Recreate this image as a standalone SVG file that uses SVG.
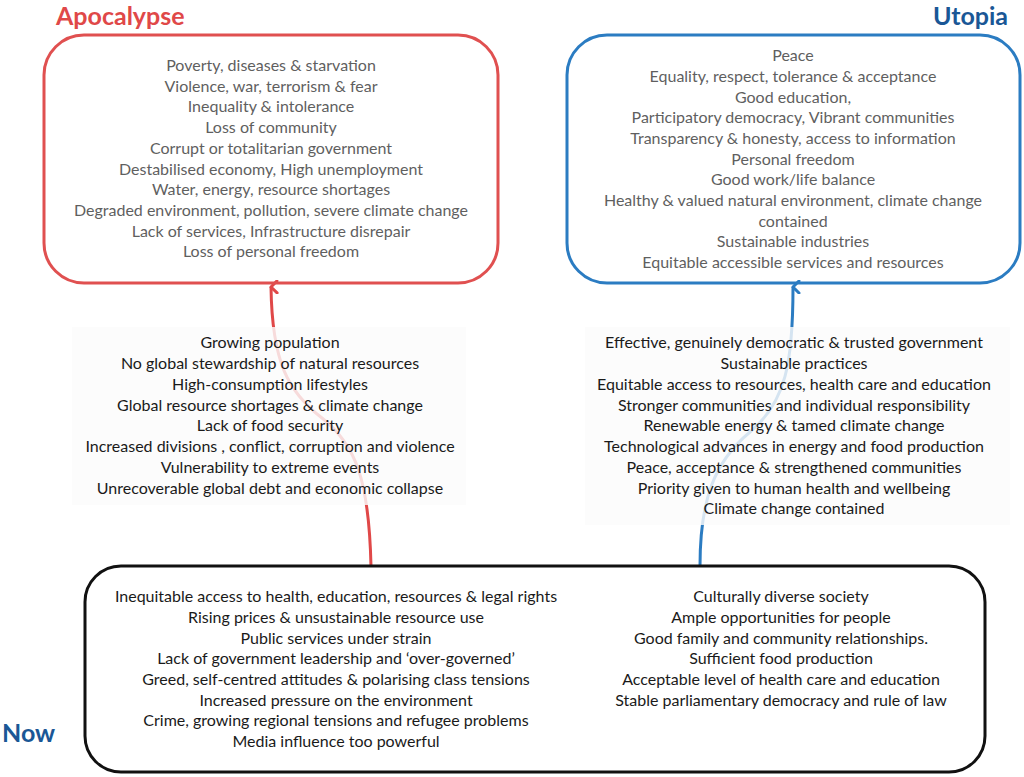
<svg xmlns="http://www.w3.org/2000/svg" width="1024" height="777" viewBox="0 0 1024 777">
<defs>
<style>
.title{font-family:Lato,"Open Sans",sans-serif;font-weight:bold;font-size:25px}
.t{font-family:Lato,"Liberation Sans",sans-serif;font-size:16px;text-anchor:middle}
.gray{fill:#5f5f5f}
.dark{fill:#1a1a1a}
.box{fill:none;stroke-width:3}
.veil{fill:#fbfbfb;fill-opacity:0.82}
</style>
<marker id="ar-red" markerWidth="14" markerHeight="14" refX="7" refY="2" orient="auto-start-reverse" markerUnits="userSpaceOnUse" viewBox="0 0 14 14">
<path d="M1,8 L7,2 L13,8" fill="none" stroke="#e04848" stroke-width="3" stroke-linecap="round" stroke-linejoin="round"/>
</marker>
<marker id="ar-blue" markerWidth="14" markerHeight="14" refX="7" refY="2" orient="auto-start-reverse" markerUnits="userSpaceOnUse" viewBox="0 0 14 14">
<path d="M1,8 L7,2 L13,8" fill="none" stroke="#2b7cc2" stroke-width="3" stroke-linecap="round" stroke-linejoin="round"/>
</marker>
</defs>
<rect width="1024" height="777" fill="#ffffff"/>

<g id="connectors">
<path d="M371,566 C369,480 356,445 322,418 C288,392 272,362 271,287" fill="none" stroke="#e04848" stroke-width="3" marker-end="url(#ar-red)"/>
<path d="M700,566 C700,500 714,462 750,432 C786,402 793,362 793,287" fill="none" stroke="#2b7cc2" stroke-width="3" marker-end="url(#ar-blue)"/>
</g>

<g id="apocalypse">
<text class="title" x="56" y="25" fill="#e04848">Apocalypse</text>
<rect class="box" x="44" y="35" width="454" height="248" rx="40" stroke="#e05050"/>
<g class="t gray">
<text x="271" y="71">Poverty, diseases &amp; starvation</text>
<text x="271" y="92">Violence, war, terrorism &amp; fear</text>
<text x="271" y="112">Inequality &amp; intolerance</text>
<text x="271" y="133">Loss of community</text>
<text x="271" y="154">Corrupt or totalitarian government</text>
<text x="271" y="175">Destabilised economy, High unemployment</text>
<text x="271" y="195">Water, energy, resource shortages</text>
<text x="271" y="216">Degraded environment, pollution, severe climate change</text>
<text x="271" y="237">Lack of services, Infrastructure disrepair</text>
<text x="271" y="257">Loss of personal freedom</text>
</g>
</g>

<g id="utopia">
<text class="title" x="1008" y="25" fill="#1a5796" text-anchor="end">Utopia</text>
<rect class="box" x="567" y="35" width="453" height="248" rx="40" stroke="#2b7cc2"/>
<g class="t gray">
<text x="793" y="61">Peace</text>
<text x="793" y="82">Equality, respect, tolerance &amp; acceptance</text>
<text x="793" y="103">Good education,</text>
<text x="793" y="123">Participatory democracy, Vibrant communities</text>
<text x="793" y="144">Transparency &amp; honesty, access to information</text>
<text x="793" y="165">Personal freedom</text>
<text x="793" y="185">Good work/life balance</text>
<text x="793" y="206">Healthy &amp; valued natural environment, climate change</text>
<text x="793" y="227">contained</text>
<text x="793" y="247">Sustainable industries</text>
<text x="793" y="268">Equitable accessible services and resources</text>
</g>
</g>

<g id="drivers-apocalypse">
<rect class="veil" x="72" y="327" width="394" height="178"/>
<g class="t dark">
<text x="270" y="348">Growing population</text>
<text x="270" y="369">No global stewardship of natural resources</text>
<text x="270" y="390">High-consumption lifestyles</text>
<text x="270" y="411">Global resource shortages &amp; climate change</text>
<text x="270" y="431">Lack of food security</text>
<text x="270" y="452">Increased divisions , conflict, corruption and violence</text>
<text x="270" y="473">Vulnerability to extreme events</text>
<text x="270" y="494">Unrecoverable global debt and economic collapse</text>
</g>
</g>

<g id="drivers-utopia">
<rect class="veil" x="585" y="327" width="425" height="198"/>
<g class="t dark">
<text x="794" y="348">Effective, genuinely democratic &amp; trusted government</text>
<text x="794" y="369">Sustainable practices</text>
<text x="794" y="390">Equitable access to resources, health care and education</text>
<text x="794" y="411">Stronger communities and individual responsibility</text>
<text x="794" y="431">Renewable energy &amp; tamed climate change</text>
<text x="794" y="452">Technological advances in energy and food production</text>
<text x="794" y="473">Peace, acceptance &amp; strengthened communities</text>
<text x="794" y="494">Priority given to human health and wellbeing</text>
<text x="794" y="514">Climate change contained</text>
</g>
</g>

<g id="now">
<text class="title" x="2" y="742" fill="#1a5796">Now</text>
<rect class="box" x="85" y="566" width="900" height="206" rx="36" stroke="#111111"/>
<g class="t dark">
<text x="336" y="602">Inequitable access to health, education, resources &amp; legal rights</text>
<text x="336" y="623">Rising prices &amp; unsustainable resource use</text>
<text x="336" y="644">Public services  under strain</text>
<text x="336" y="664">Lack of government leadership and ‘over-governed’</text>
<text x="336" y="685">Greed, self-centred attitudes  &amp; polarising class tensions</text>
<text x="336" y="706">Increased pressure on the environment</text>
<text x="336" y="726">Crime, growing regional tensions and refugee problems</text>
<text x="336" y="747">Media influence too powerful</text>
</g>
<g class="t dark">
<text x="781" y="602">Culturally diverse society</text>
<text x="781" y="623">Ample opportunities for people</text>
<text x="781" y="644">Good family and community relationships.</text>
<text x="781" y="664">Sufficient food production</text>
<text x="781" y="685">Acceptable level of health care and education</text>
<text x="781" y="706">Stable parliamentary democracy and rule of law</text>
</g>
</g>
</svg>
